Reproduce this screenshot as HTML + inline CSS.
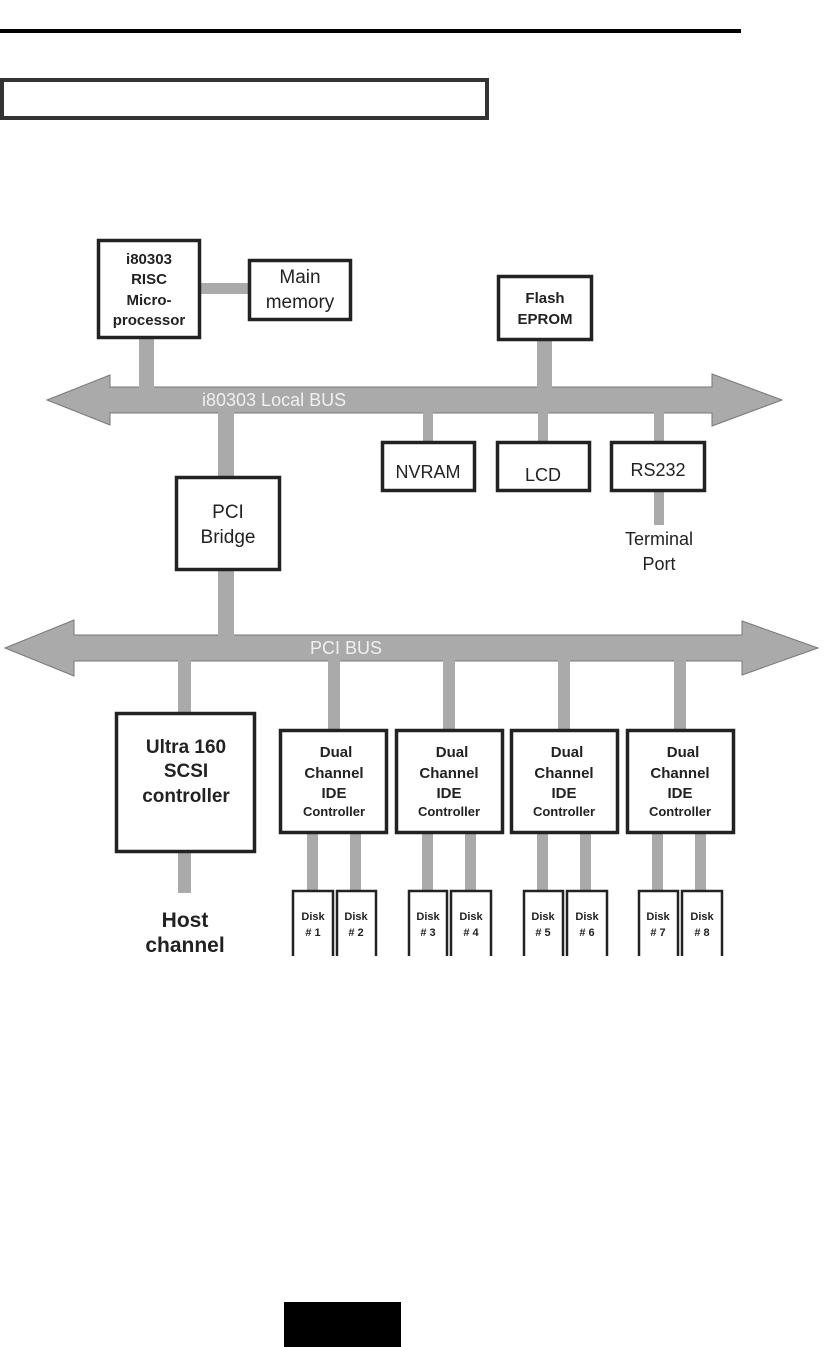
<!DOCTYPE html>
<html><head><meta charset="utf-8"><style>
html,body{margin:0;padding:0;background:#fff;}
svg{display:block;}
text{font-family:"Liberation Sans",Arial,sans-serif;}
</style></head><body>
<svg width="828" height="1347" viewBox="0 0 828 1347" xmlns="http://www.w3.org/2000/svg">
<rect x="0" y="29" width="741" height="4" fill="#000"/>
<rect x="2" y="80" width="485" height="38" fill="none" stroke="#333" stroke-width="4"/>

<g fill="#aaa">
<polygon points="47,400 110,375 110,387 712,387 712,374 782,400 712,426 712,413 110,413 110,425" stroke="#777" stroke-width="1"/>
<polygon points="5,648 74,620 74,635 742,635 742,621 818,648 742,675 742,661 74,661 74,676" stroke="#777" stroke-width="1"/>
<rect x="200" y="283" width="48" height="11"/>
<rect x="139" y="338" width="15" height="50"/>
<rect x="218" y="412" width="16" height="65"/>
<rect x="218" y="569" width="16" height="67"/>
<rect x="537" y="340" width="15" height="48"/>
<rect x="423" y="412" width="10" height="30"/>
<rect x="538" y="412" width="10" height="30"/>
<rect x="654" y="412" width="10" height="30"/>
<rect x="654" y="490" width="10" height="35"/>
<rect x="178" y="660" width="13" height="53"/>
<rect x="178" y="851" width="13" height="42"/>
<rect x="328" y="660" width="12" height="70"/>
<rect x="443" y="660" width="12" height="70"/>
<rect x="558" y="660" width="12" height="70"/>
<rect x="674" y="660" width="12" height="70"/>
<rect x="307" y="832" width="11" height="59"/><rect x="350" y="832" width="11" height="59"/>
<rect x="422" y="832" width="11" height="59"/><rect x="465" y="832" width="11" height="59"/>
<rect x="537" y="832" width="11" height="59"/><rect x="580" y="832" width="11" height="59"/>
<rect x="652" y="832" width="11" height="59"/><rect x="695" y="832" width="11" height="59"/>
</g>
<text x="202" y="406" font-size="18" fill="#f0f0f0">i80303 Local BUS</text>
<text x="310" y="654" font-size="18" fill="#f0f0f0">PCI BUS</text>

<g fill="#fff" stroke="#222" stroke-width="3.5">
<rect x="98.5" y="240.5" width="101" height="97"/>
<rect x="249.5" y="260.5" width="101" height="59"/>
<rect x="498.5" y="276.5" width="93" height="63"/>
<rect x="382.5" y="442.5" width="92" height="48"/>
<rect x="497.5" y="442.5" width="92" height="48"/>
<rect x="611.5" y="442.5" width="93" height="48"/>
<rect x="176.5" y="477.5" width="103" height="92"/>
<rect x="116.5" y="713.5" width="138" height="138"/>
<rect x="280.5" y="730.5" width="106" height="102"/>
<rect x="396.5" y="730.5" width="106" height="102"/>
<rect x="511.5" y="730.5" width="106" height="102"/>
<rect x="627.5" y="730.5" width="106" height="102"/>
</g>
<g fill="#fff" stroke="#222" stroke-width="2.5">
<path d="M293,956 V891 H333 V956 M337,956 V891 H376 V956"/>
<path d="M409,956 V891 H447 V956 M451,956 V891 H491 V956"/>
<path d="M524,956 V891 H563 V956 M567,956 V891 H607 V956"/>
<path d="M639,956 V891 H678 V956 M682,956 V891 H722 V956"/>
</g>

<g font-weight="bold" fill="#222" text-anchor="middle">
<g font-size="15">
<text x="149" y="264">i80303</text><text x="149" y="284">RISC</text>
<text x="149" y="305">Micro-</text><text x="149" y="325">processor</text>
<text x="545" y="303">Flash</text><text x="545" y="324">EPROM</text>
</g>
<g font-size="19">
<text x="186" y="753">Ultra 160</text><text x="186" y="777">SCSI</text><text x="186" y="802">controller</text>
</g>
<g font-size="21">
<text x="185" y="927">Host</text><text x="185" y="952">channel</text>
</g>
<g font-size="15">
<text x="336" y="757">Dual</text><text x="334" y="778">Channel</text><text x="334" y="798">IDE</text>
<text x="452" y="757">Dual</text><text x="449" y="778">Channel</text><text x="449" y="798">IDE</text>
<text x="567" y="757">Dual</text><text x="564" y="778">Channel</text><text x="564" y="798">IDE</text>
<text x="683" y="757">Dual</text><text x="680" y="778">Channel</text><text x="680" y="798">IDE</text>
</g>
<g font-size="13">
<text x="334" y="816">Controller</text><text x="449" y="816">Controller</text>
<text x="564" y="816">Controller</text><text x="680" y="816">Controller</text>
</g>
<g font-size="11">
<text x="313" y="920">Disk</text><text x="313" y="936"># 1</text>
<text x="356" y="920">Disk</text><text x="356" y="936"># 2</text>
<text x="428" y="920">Disk</text><text x="428" y="936"># 3</text>
<text x="471" y="920">Disk</text><text x="471" y="936"># 4</text>
<text x="543" y="920">Disk</text><text x="543" y="936"># 5</text>
<text x="587" y="920">Disk</text><text x="587" y="936"># 6</text>
<text x="658" y="920">Disk</text><text x="658" y="936"># 7</text>
<text x="702" y="920">Disk</text><text x="702" y="936"># 8</text>
</g>
</g>
<g fill="#222" text-anchor="middle" font-size="18">
<text x="300" y="283" font-size="19">Main</text><text x="300" y="308" font-size="19">memory</text>
<text x="428" y="478">NVRAM</text>
<text x="543" y="481">LCD</text>
<text x="658" y="476">RS232</text>
<text x="228" y="518" font-size="19">PCI</text><text x="228" y="543" font-size="19">Bridge</text>
<text x="659" y="545">Terminal</text><text x="659" y="570">Port</text>
</g>

<rect x="284" y="1302" width="117" height="45" fill="#000"/>
</svg>
</body></html>
